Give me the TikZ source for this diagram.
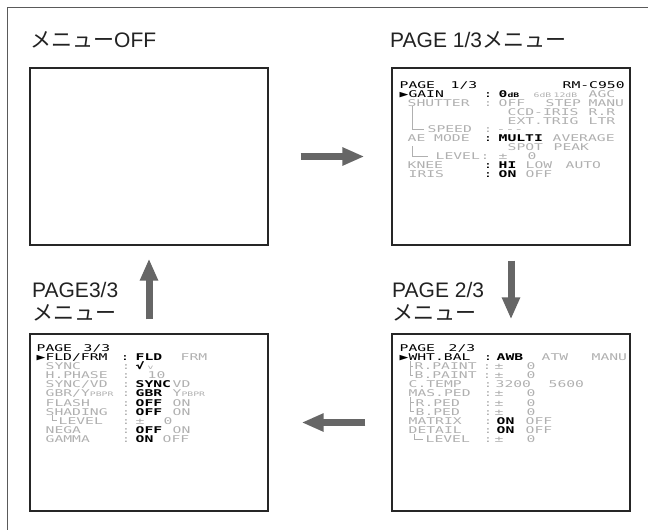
\documentclass[tikz,border=0pt]{standalone}
\usepackage{fontspec}
\setmainfont{Liberation Sans}
\newfontfamily\jp{Noto Sans CJK JP}
\newfontfamily\osd[FakeStretch=1.58]{DejaVu Sans Mono}
\usetikzlibrary{arrows.meta, positioning}
\usepackage{xcolor}
\definecolor{osdGray}{HTML}{B0B0B0}
\definecolor{arrowGray}{HTML}{666666}
\definecolor{frameGray}{HTML}{5A5A5A}
\definecolor{titleBlack}{HTML}{222222}

% one token of a screen line, dx from the line start
\newcommand{\tk}[2]{\rlap{\hspace*{#1pt}#2}}
\newcommand{\bk}[1]{{\color{black}#1}}
\newcommand{\sel}[1]{{\color{black}\bfseries #1}}
\newcommand{\sm}[1]{{\fontsize{6.2}{6}\selectfont #1}}

\tikzset{
    % Boxes
    screen/.style={
        rectangle,
        draw=black!85,
        line width=1.3pt,
        minimum width=238pt,
        minimum height=177pt,
        inner sep=0pt
    },
    menuTitle/.style={
        anchor=west,
        inner sep=0pt,
        text=titleBlack,
        font=\fontsize{21}{23}\selectfont
    },
    osdline/.style={
        anchor=base west,
        inner sep=0pt,
        text=osdGray,
        font=\osd\fontsize{9.3}{9}\selectfont
    },
    % Lines
    flow/.style={
        draw=arrowGray,
        line width=7pt,
        -{Triangle[length=22pt,width=17pt]}
    },
    tree/.style={
        draw=osdGray,
        line width=0.8pt
    },
    outerFrame/.style={
        draw=frameGray,
        line width=1pt
    }
}

\begin{document}
\begin{tikzpicture}[x=1pt, y=-1pt]
    \useasboundingbox (0,0) rectangle (648,530);
    \draw[outerFrame] (7,530) -- (7,7) -- (648,7);

    % titles
    \node[menuTitle] (tOff) at (30,40) {{\jp メニュー}OFF};
    \node[menuTitle] (tOne) at (390,40) {PAGE 1/3{\jp メニュー}};
    \node[menuTitle] (tThreeA) at (32,290) {PAGE3/3};
    \node[menuTitle] (tThreeB) at (32,313) {\jp メニュー};
    \node[menuTitle] (tTwoA) at (392,290) {PAGE 2/3};
    \node[menuTitle] (tTwoB) at (392,313) {\jp メニュー};

    % screens
    \node[screen] (sOff) at (149,156.5) {};
    \node[screen] (sOne) at (511,156.5) {};
    \node[screen] (sThree) at (149,422.5) {};
    \node[screen] (sTwo) at (511,422.5) {};

    % PAGE 1/3
    \node[osdline] (p1a) at (399,88.4) {\tk{0}{\bk{PAGE}}\tk{51}{\bk{1/3}}\tk{163}{\bk{RM-C950}}};
    \node[osdline] (p1b) at (399,97.3) {\tk{0}{\bk{▶GAIN}}\tk{84}{\bk{:}}\tk{99}{\sel{0\sm{dB}}}\tk{134}{\sm{6dB}}\tk{154}{\sm{12dB}}\tk{189}{AGC}};
    \node[osdline] (p1c) at (399,106.2) {\tk{8}{SHUTTER}\tk{84}{:}\tk{99}{OFF}\tk{146}{STEP}\tk{189}{MANU}};
    \node[osdline] (p1d) at (399,115.1) {\tk{108}{CCD-IRIS}\tk{189}{R.R}};
    \node[osdline] (p1e) at (399,124.0) {\tk{108}{EXT.TRIG}\tk{189}{LTR}};
    \node[osdline] (p1f) at (399,132.9) {\tk{28}{SPEED}\tk{84}{:}\tk{97}{-{}-{}-}};
    \node[osdline] (p1g) at (399,141.8) {\tk{8}{AE MODE}\tk{84}{\bk{:}}\tk{99}{\sel{MULTI}}\tk{153}{AVERAGE}};
    \node[osdline] (p1h) at (399,150.7) {\tk{108}{SPOT}\tk{154}{PEAK}};
    \node[osdline] (p1i) at (399,159.6) {\tk{36}{LEVEL}\tk{81}{:}\tk{99}{±}\tk{128}{0}};
    \node[osdline] (p1j) at (399,168.5) {\tk{8}{KNEE}\tk{84}{\bk{:}}\tk{99}{\sel{HI}}\tk{126}{LOW}\tk{166}{AUTO}};
    \node[osdline] (p1k) at (399,177.4) {\tk{9}{IRIS}\tk{84}{\bk{:}}\tk{99}{\sel{ON}}\tk{126}{OFF}};
    \draw[tree] (412,106) -- (412,129.5) -- (424,129.5);
    \draw[tree] (412,146) -- (412,156.2) -- (428,156.2);

    % PAGE 2/3
    \node[osdline] (p2a) at (399,351.4) {\tk{0}{\bk{PAGE}}\tk{49}{\bk{2/3}}};
    \node[osdline] (p2b) at (399,360.5) {\tk{0}{\bk{▶WHT.BAL}}\tk{84}{\bk{:}}\tk{97}{\sel{AWB}}\tk{142}{ATW}\tk{192}{MANU}};
    \node[osdline] (p2c) at (399,369.6) {\tk{15}{R.PAINT}\tk{83}{:}\tk{95}{±}\tk{127}{0}};
    \node[osdline] (p2d) at (399,378.7) {\tk{15}{B.PAINT}\tk{83}{:}\tk{95}{±}\tk{127}{0}};
    \node[osdline] (p2e) at (399,387.8) {\tk{9}{C.TEMP}\tk{84}{:}\tk{96}{3200}\tk{149}{5600}};
    \node[osdline] (p2f) at (399,396.9) {\tk{9}{MAS.PED}\tk{84}{:}\tk{95}{±}\tk{127}{0}};
    \node[osdline] (p2g) at (399,406.0) {\tk{16}{R.PED}\tk{84}{:}\tk{95}{±}\tk{127}{0}};
    \node[osdline] (p2h) at (399,415.1) {\tk{16}{B.PED}\tk{84}{:}\tk{95}{±}\tk{127}{0}};
    \node[osdline] (p2i) at (399,424.2) {\tk{9}{MATRIX}\tk{84}{:}\tk{97}{\sel{ON}}\tk{126}{OFF}};
    \node[osdline] (p2j) at (399,433.3) {\tk{9}{DETAIL}\tk{84}{:}\tk{97}{\sel{ON}}\tk{126}{OFF}};
    \node[osdline] (p2k) at (399,442.4) {\tk{26}{LEVEL}\tk{84}{:}\tk{95}{±}\tk{127}{0}};
    \draw[tree] (410,361) -- (410,375.3) -- (413,375.3);
    \draw[tree] (410,366.2) -- (413,366.2);
    \draw[tree] (410,397) -- (410,411.7) -- (414,411.7);
    \draw[tree] (410,402.6) -- (414,402.6);
    \draw[tree] (414,434) -- (414,439) -- (423,439);

    % PAGE 3/3
    \node[osdline] (p3a) at (36,351.4) {\tk{0}{\bk{PAGE}}\tk{47}{\bk{3/3}}};
    \node[osdline] (p3b) at (36,360.5) {\tk{0}{\bk{▶FLD/FRM}}\tk{84}{\bk{:}}\tk{99}{\sel{FLD}}\tk{144}{FRM}};
    \node[osdline] (p3c) at (36,369.6) {\tk{9}{SYNC}\tk{85}{:}\tk{99}{\sel{√}}\tk{111}{\sm{v}}};
    \node[osdline] (p3d) at (36,378.7) {\tk{9}{H.PHASE}\tk{85}{:}\tk{111}{10}};
    \node[osdline] (p3e) at (36,387.8) {\tk{9}{SYNC/VD}\tk{85}{:}\tk{99}{\sel{SYNC}}\tk{136}{VD}};
    \node[osdline] (p3f) at (36,396.9) {\tk{9}{GBR/Y\sm{PBPR}}\tk{85}{:}\tk{99}{\sel{GBR}}\tk{136}{Y\sm{PBPR}}};
    \node[osdline] (p3g) at (36,406.0) {\tk{9}{FLASH}\tk{85}{:}\tk{99}{\sel{OFF}}\tk{136}{ON}};
    \node[osdline] (p3h) at (36,415.1) {\tk{9}{SHADING}\tk{85}{:}\tk{99}{\sel{OFF}}\tk{136}{ON}};
    \node[osdline] (p3i) at (36,424.2) {\tk{22}{LEVEL}\tk{85}{:}\tk{99}{±}\tk{127}{0}};
    \node[osdline] (p3j) at (36,433.3) {\tk{9}{NEGA}\tk{85}{:}\tk{99}{\sel{OFF}}\tk{136}{ON}};
    \node[osdline] (p3k) at (36,442.4) {\tk{9}{GAMMA}\tk{85}{:}\tk{99}{\sel{ON}}\tk{126}{OFF}};
    \draw[tree] (52,415) -- (52,420.8) -- (57,420.8);

    % arrows between screens
    \coordinate[right=32pt of sOff.east] (rTail);
    \coordinate[left=27pt of sOne.west] (rTip);
    \coordinate[below=15pt of sOne.south] (dTail);
    \coordinate[above=14pt of sTwo.north] (dTip);
    \coordinate[left=26pt of sTwo.west] (lTail);
    \coordinate[right=33pt of sThree.east] (lTip);
    \coordinate[above=14pt of sThree.north] (uTail);
    \coordinate[below=13pt of sOff.south] (uTip);
    \draw[flow] (rTail) -- (rTip);
    \draw[flow] (dTail) -- (dTip);
    \draw[flow] (lTail) -- (lTip);
    \draw[flow] (uTail) -- (uTip);
\end{tikzpicture}
\end{document}
